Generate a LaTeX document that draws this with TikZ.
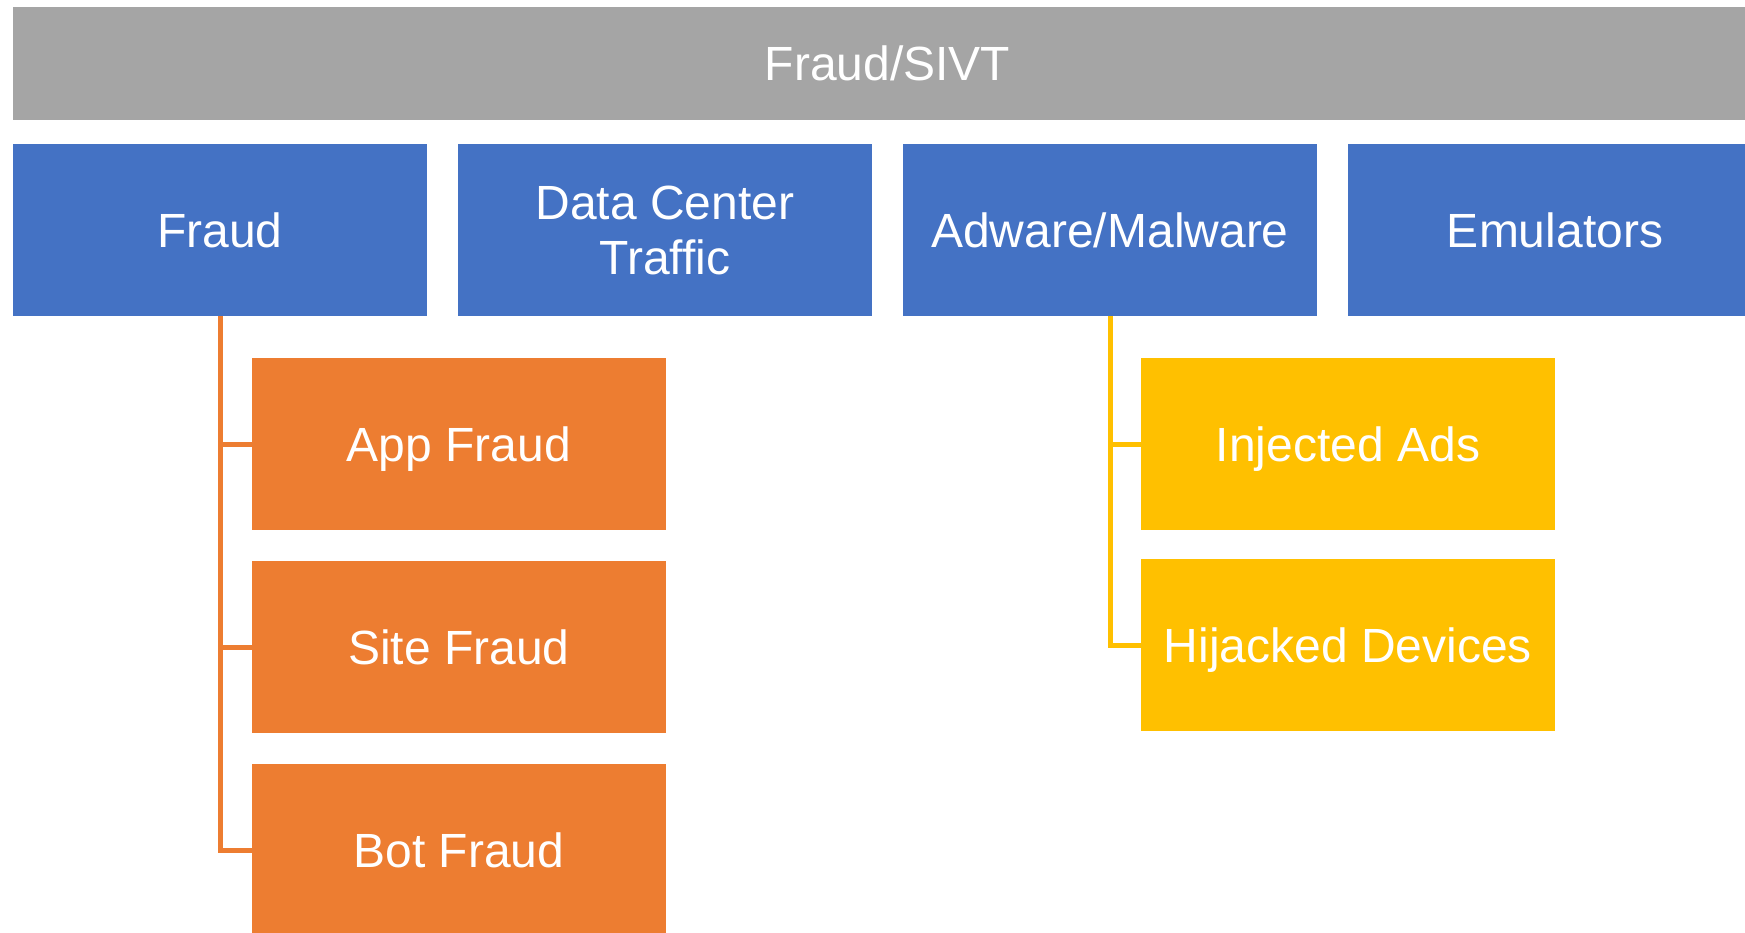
\documentclass[tikz,border=0pt]{standalone}
\usepackage{fontspec}
\setmainfont{Liberation Sans}
\definecolor{topgray}{HTML}{A5A5A5}
\definecolor{catblue}{HTML}{4472C4}
\definecolor{subor}{HTML}{ED7D31}
\definecolor{subyel}{HTML}{FFC000}
\begin{document}
\begin{tikzpicture}[x=1pt,y=-1pt,
  plainbox/.style={anchor=north west,inner sep=0pt,outer sep=0pt,minimum width=414pt,
    minimum height=172pt,text=white,font=\fontsize{48}{55}\selectfont},
  box/.style={plainbox,align=center},
  bluebox/.style={box,fill=catblue},
  subbox/.style={plainbox,text height=35pt,text depth=0pt},
  orbox/.style={subbox,fill=subor},
  yelbox/.style={subbox,fill=subyel},
  orline/.style={draw=subor,line width=5pt},
  yelline/.style={draw=subyel,line width=5pt}]
\clip (0,0) rectangle (1745,933);
\fill[white] (0,0) rectangle (1745,933);
% header bar
\node[box,fill=topgray,minimum width=1749pt,minimum height=113pt] (top) at (13,7) {Fraud/SIVT};
% categories
\node[bluebox] (fraud) at (13,144) {Fraud};
\node[bluebox] (dc) at (458,144) {Data Center\\Traffic};
\node[bluebox] (adware) at (903,144) {Adware/Malware};
\node[bluebox] (emu) at (1348,144) {Emulators};
% fraud sub-items
\node[orbox] (app) at (252,358) {App Fraud};
\node[orbox] (site) at (252,561) {Site Fraud};
\node[orbox] (bot) at (252,764) {Bot Fraud};
% adware sub-items
\node[yelbox] (inj) at (1141,358) {Injected Ads};
\node[yelbox] (hij) at (1141,559) {Hijacked Devices};
% connectors
\draw[orline] (fraud.south) |- (app.west);
\draw[orline] (fraud.south) |- (site.west);
\draw[orline] (fraud.south) |- (bot.west);
\draw[yelline] (adware.south) |- (inj.west);
\draw[yelline] (adware.south) |- (hij.west);
\end{tikzpicture}
\end{document}
